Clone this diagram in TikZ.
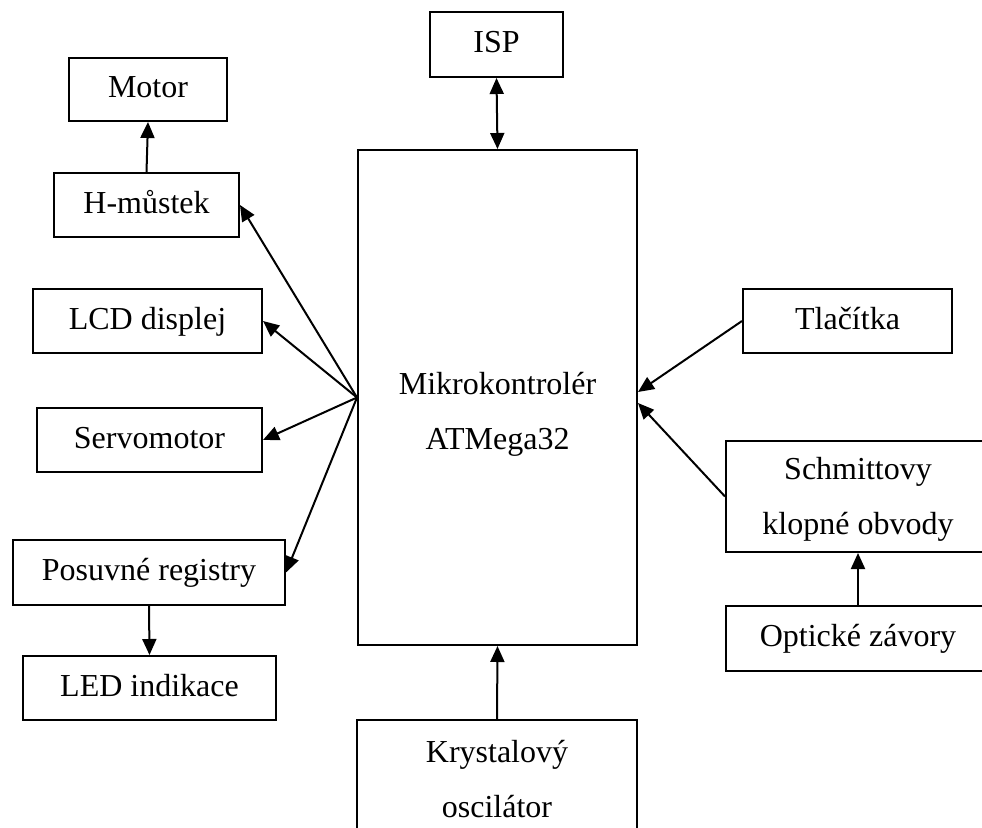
\documentclass[tikz,border=0pt]{standalone}
\usepackage{fontspec}
\setmainfont{Liberation Serif}
\usetikzlibrary{arrows.meta}
\tikzset{
  blk/.style={draw, line width=2pt, inner sep=0pt, align=center,
    font=\fontsize{32}{55}\selectfont, text height=21pt, text depth=5pt},
  blk2/.style={blk, text height=76pt, text depth=0pt},
  lbl/.style={inner sep=0pt, align=center,
    font=\fontsize{32}{55}\selectfont, text height=76pt, text depth=0pt},
  conn/.style={line width=2pt, -{Triangle[length=16pt,width=14pt]}},
  conn2/.style={line width=2pt, {Triangle[length=16pt,width=14pt]}-{Triangle[length=16pt,width=14pt]}}
}
\begin{document}
\begin{tikzpicture}[x=1pt,y=-1pt]
\clip (0,0) rectangle (982,827);
\fill[white] (0,0) rectangle (982,827);
% boxes
\node[blk, minimum width=133pt, minimum height=65pt] (isp) at (496.5,44.5) {ISP};
\node[blk, minimum width=158pt, minimum height=63pt] (motor) at (148,89.5) {Motor};
\node[blk, minimum width=185pt, minimum height=64pt] (hm) at (146.5,205) {H-můstek};
\node[blk, minimum width=229pt, minimum height=64pt] (lcd) at (147.5,321) {LCD displej};
\node[blk, minimum width=225pt, minimum height=64pt] (servo) at (149.5,440) {Servomotor};
\node[blk, minimum width=272pt, minimum height=65pt] (posuv) at (149,572.5) {Posuvné registry};
\node[blk, minimum width=253pt, minimum height=64pt] (led) at (149.5,688) {LED indikace};
\node[blk, minimum width=279pt, minimum height=495pt] (mcu) at (497.5,397.5) {};
\node[lbl] (mcutext) at (497.5,411) {Mikrokontrolér\\ATMega32};
\node[blk, minimum width=209pt, minimum height=64pt] (tlac) at (847.5,321) {Tlačítka};
\node[blk2, minimum width=264pt, minimum height=111pt] (schmitt) at (858,496.5) {Schmittovy\\klopné obvody};
\node[blk, minimum width=264pt, minimum height=65pt] (opt) at (858,638.5) {Optické závory};
\node[blk2, minimum width=280pt, minimum height=119pt] (kryst) at (497,779.5) {Krystalový\\oscilátor};
% connectors
\draw[conn2] (isp.south) -- (mcu.north);
\draw[conn] (hm.north) -- (motor.south);
\draw[conn] (mcu.west) -- (hm.east);
\draw[conn] (mcu.west) -- (lcd.east);
\draw[conn] (mcu.west) -- (servo.east);
\draw[conn] (mcu.west) -- (posuv.east);
\draw[conn] (posuv.south) -- (led.north);
\coordinate (in1) at ([yshift=5.5pt]mcu.east);
\coordinate (in2) at ([yshift=-5.5pt]mcu.east);
\draw[conn] (tlac.west) -- (in1);
\draw[conn] (schmitt.west) -- (in2);
\draw[conn] (opt.north) -- (schmitt.south);
\draw[conn] (kryst.north) -- (mcu.south);
\end{tikzpicture}
\end{document}
